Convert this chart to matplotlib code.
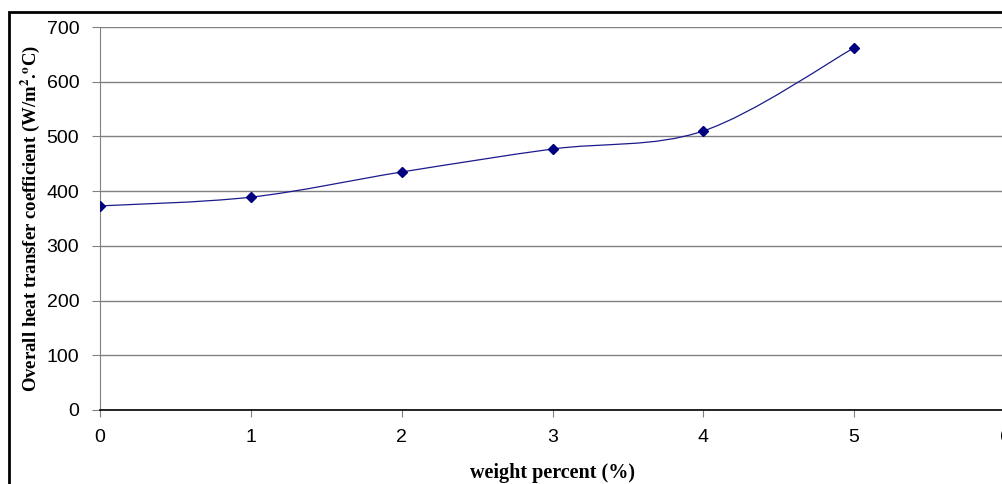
import numpy as np
import matplotlib
matplotlib.use("Agg")
import matplotlib.pyplot as plt
from matplotlib.path import Path
from matplotlib.patches import PathPatch, Rectangle

# data
weight_pct = [0, 1, 2, 3, 4, 5]
heat_coef = [373, 389, 435, 477, 510, 662]
y_ticks = [0, 100, 200, 300, 400, 500, 600, 700]
x_ticks = [0, 1, 2, 3, 4, 5, 6]

plt.rcParams['mathtext.fontset'] = 'stix'

W, H = 1002, 484
fig = plt.figure(figsize=(W / 100, H / 100), dpi=100)
ax = fig.add_axes([100 / W, (H - 410) / H, 905 / W, 383 / H])

# outer frame like the pasted Excel chart
fig.patches.append(Rectangle((9 / W, -0.1), 1.2, (H - 12) / H + 0.1,
                             transform=fig.transFigure, fill=False,
                             edgecolor='black', linewidth=2, zorder=10))


def smooth_path(x, y):
    """Excel style smoothed line built as cubic bezier segments"""
    pts = np.column_stack([x, y]).astype(float)
    ext = np.vstack([pts[0], pts, pts[-1]])
    verts = [pts[0]]
    codes = [Path.MOVETO]
    for i in range(1, len(ext) - 2):
        p0, p1, p2, p3 = ext[i - 1], ext[i], ext[i + 1], ext[i + 2]
        c1 = p1 + (p2 - p0) / 6
        c2 = p2 - (p3 - p1) / 6
        verts += [c1, c2, p2]
        codes += [Path.CURVE4] * 3
    return Path(verts, codes)


ax.add_patch(PathPatch(smooth_path(weight_pct, heat_coef), facecolor='none',
                       edgecolor='#1a1a8c', linewidth=0.9, zorder=3))
ax.plot(weight_pct, heat_coef, linestyle='none', marker='D', markersize=5,
        color='#000080', zorder=4)

ax.set_xlim(0, 6)
ax.set_ylim(0, 700)
ax.set_xticks(x_ticks)
ax.set_yticks(y_ticks)
ax.yaxis.grid(True, color='#808080', linewidth=1)
ax.set_axisbelow(True)

for s in ['top', 'right']:
    ax.spines[s].set_visible(False)
ax.spines['left'].set_color('#808080')
ax.spines['bottom'].set_color('black')
ax.spines['bottom'].set_linewidth(1.2)
ax.tick_params(axis='y', length=6, color='#808080', pad=9, labelsize=14)
ax.tick_params(axis='x', length=5, color='#808080', pad=9, labelsize=14)
for lab in ax.get_xticklabels() + ax.get_yticklabels():
    lab.set_family('Liberation Sans')

ax.set_xlabel('weight percent (%)', family='Liberation Serif', fontweight='bold',
              fontsize=14.5, labelpad=12)
ax.set_ylabel(r'Overall heat transfer coefficient (W/m$^{\mathbf{2}}$.$^{\mathbf{o}}$C)',
              family='Liberation Serif', fontweight='bold', fontsize=13.5)
ax.yaxis.set_label_coords(-58 / 905, 0.5)

fig.savefig('out.png', dpi=100)
